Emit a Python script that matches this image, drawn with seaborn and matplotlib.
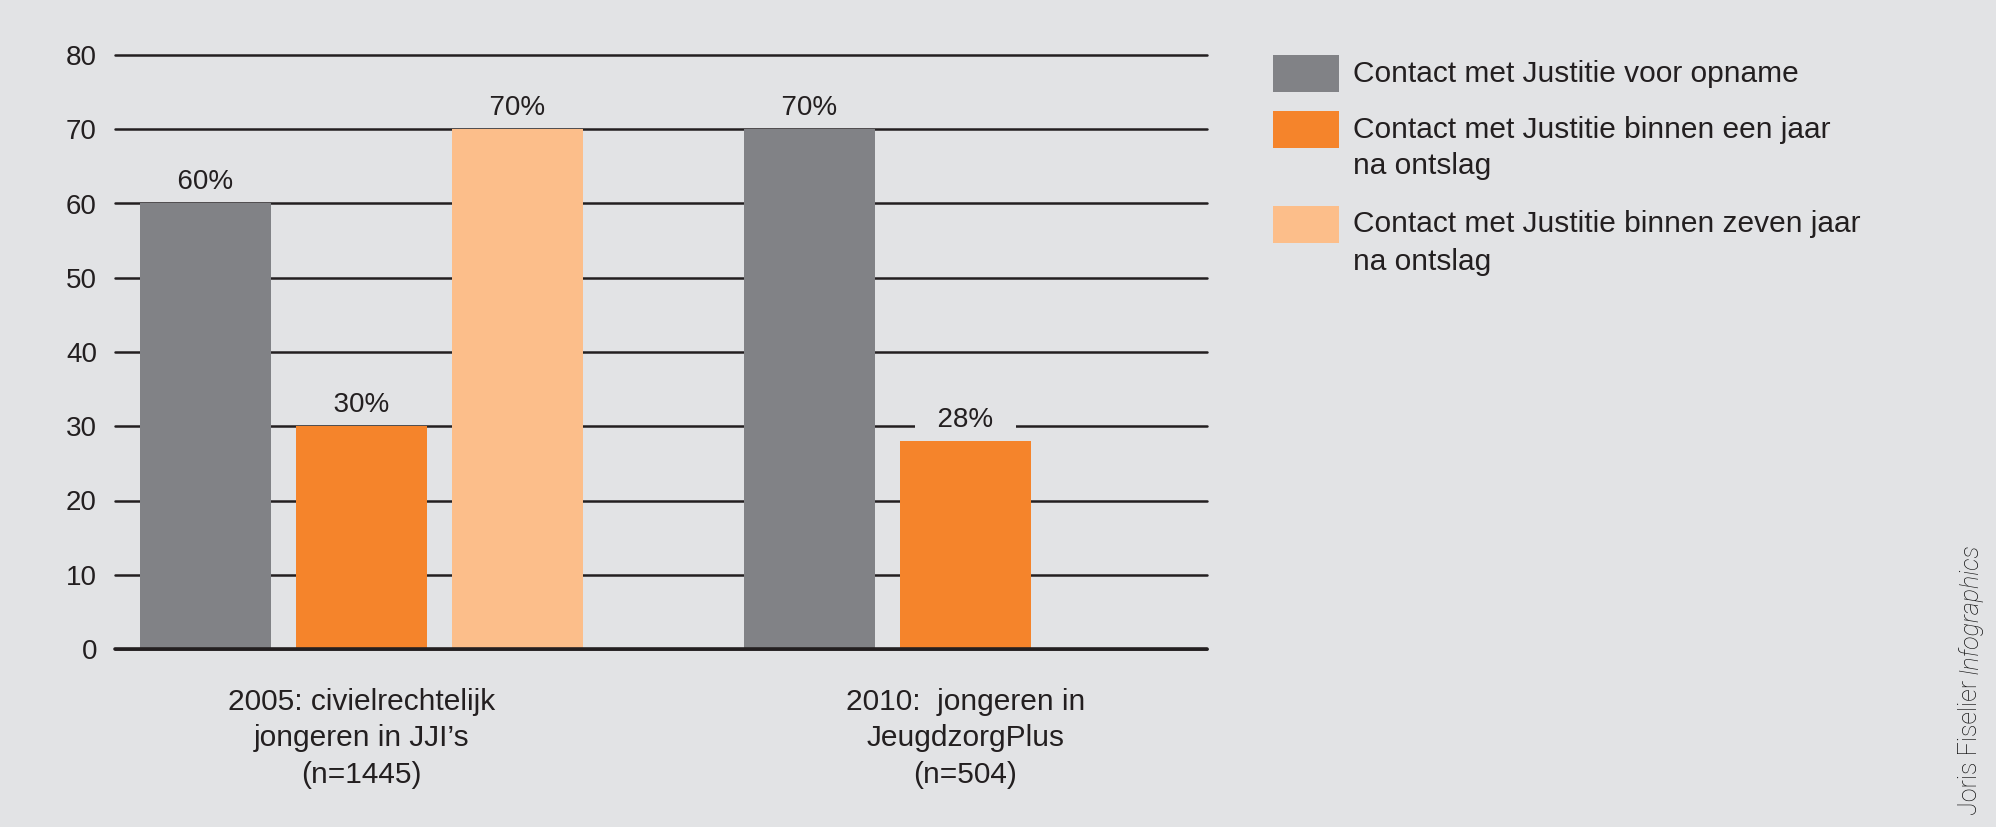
import numpy as np
import pandas as pd
import matplotlib
matplotlib.use("Agg")
import matplotlib.pyplot as plt
import seaborn as sns
from matplotlib.patches import Rectangle

# ---- data ----
groups = ["2005: civielrechtelijk\njongeren in JJI’s\n(n=1445)",
          "2010:  jongeren in\nJeugdzorgPlus\n(n=504)"]
series = ["Contact met Justitie voor opname",
          "Contact met Justitie binnen een jaar\nna ontslag",
          "Contact met Justitie binnen zeven jaar\nna ontslag"]
v_opname = [60, 70]
v_een_jaar = [30, 28]
v_zeven_jaar = [70, np.nan]
yticks = [0, 10, 20, 30, 40, 50, 60, 70, 80]
colors = ["#818286", "#f5842b", "#fcbe8a"]
credit_1 = "Joris Fiselier "
credit_2 = "Infographics"

BG = "#e2e3e5"
INK = "#231f20"

rows = []
for s, vals in zip(series, [v_opname, v_een_jaar, v_zeven_jaar]):
    for g, v in zip(groups, vals):
        rows.append({"group": g, "series": s, "value": v})
df = pd.DataFrame(rows)

sns.set_theme(style="white")
plt.rcParams["font.family"] = ["Liberation Sans", "DejaVu Sans"]
plt.rcParams["text.color"] = INK

W, H = 1996, 827
fig = plt.figure(figsize=(W / 100, H / 100), dpi=100, facecolor=BG)
ax = fig.add_axes([115 / W, (H - 649) / H, (1207 - 115) / W, (649 - 55) / H])
ax.set_facecolor(BG)

sns.barplot(data=df, x="group", y="value", hue="series", order=groups,
            hue_order=series, palette=colors, saturation=1, width=0.775,
            gap=0.16, legend=False, ax=ax, zorder=2, edgecolor="none",
            linewidth=0)

ax.set_ylim(0, 80)
ax.set_xlim(-0.408, 1.40)
ax.set_yticks(yticks)
ax.set_yticklabels([str(t) for t in yticks])
ax.set_xlabel("")
ax.set_ylabel("")
for sp in ax.spines.values():
    sp.set_visible(False)
ax.set_axisbelow(True)
ax.yaxis.grid(True, color=INK, linewidth=1.8)
ax.xaxis.grid(False)
for gl in ax.get_ygridlines():
    gl.set_clip_on(False)
ax.axhline(0, color=INK, linewidth=2.6, zorder=5, clip_on=False)
ax.tick_params(axis="y", length=0, pad=13, labelsize=20, labelcolor=INK)
ax.tick_params(axis="x", length=0, pad=28, labelsize=21.5, labelcolor=INK)
for lab in ax.get_xticklabels():
    lab.set_linespacing(1.38)

for c in ax.containers:
    labels = ["" if np.isnan(v) else f"  {v:.0f}%  " for v in c.datavalues]
    ax.bar_label(c, labels=labels, padding=6, fontsize=20, color=INK,
                 bbox=dict(boxstyle="square,pad=0.25", facecolor=BG,
                           edgecolor="none"), zorder=6)

# ---- legend (manual) ----
sw_x, sw_w, sw_h = 1273, 66, 37
sw_tops = [55, 111, 206]
line_gap = 37
for s, col, top in zip(series, colors, sw_tops):
    fig.add_artist(Rectangle((sw_x / W, (H - top - sw_h) / H), sw_w / W, sw_h / H,
                             transform=fig.transFigure, facecolor=col,
                             edgecolor="none"))
    yc = top + sw_h / 2
    for i, line in enumerate(s.split("\n")):
        fig.text(1353 / W, (H - (yc + i * line_gap)) / H, line, fontsize=21.5,
                 ha="left", va="center", color=INK)

# ---- credit ----
t1 = fig.text(1970 / W, (H - 815) / H, credit_1, rotation=90, ha="center",
              va="bottom", fontsize=18, color="#111111",
              family=["Roboto", "DejaVu Sans"], fontweight="light")
ax.annotate(credit_2, xy=(0.5, 1.0), xycoords=t1, rotation=90, ha="center",
            va="bottom", fontsize=18, color="#111111", style="italic",
            family=["Roboto", "DejaVu Sans"], fontweight="light",
            annotation_clip=False)

fig.savefig("out.png", dpi=100, facecolor=BG)
